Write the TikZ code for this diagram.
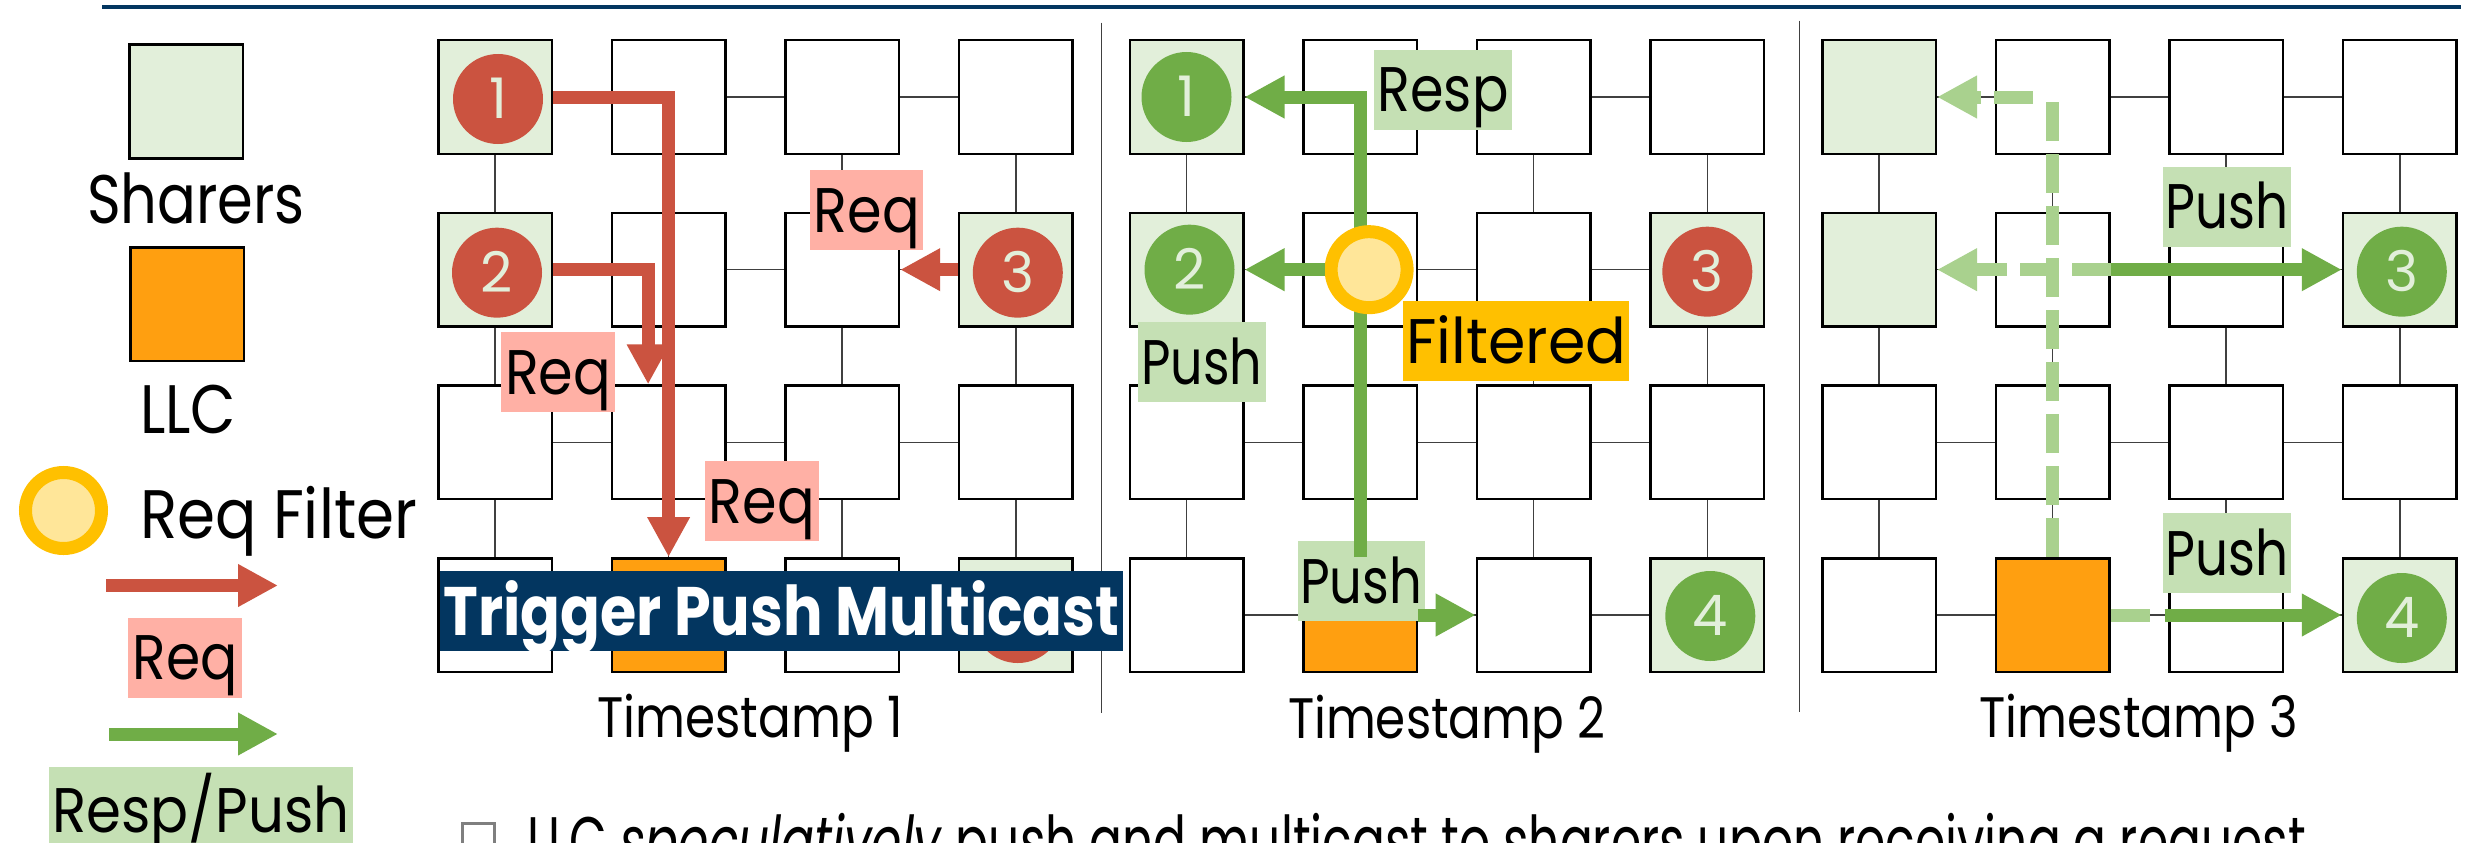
\documentclass[tikz,border=0pt]{standalone}
\usepackage{fontspec}
\usepackage{graphicx}
\setmainfont{Poppins}
\usetikzlibrary{arrows.meta,calc}

\definecolor{reqred}{RGB}{203,83,64}
\definecolor{reqpink}{RGB}{255,176,165}
\definecolor{pushgreen}{RGB}{112,173,71}
\definecolor{pushlight}{RGB}{197,224,180}
\definecolor{ghostgreen}{RGB}{169,209,142}
\definecolor{sharerfill}{RGB}{226,239,218}
\definecolor{llcorange}{RGB}{255,159,16}
\definecolor{filterring}{RGB}{255,192,0}
\definecolor{filterin}{RGB}{255,230,153}
\definecolor{navy}{RGB}{3,54,96}
\definecolor{linkgray}{RGB}{64,64,64}
\definecolor{numtext}{RGB}{226,239,218}
\definecolor{bulletgray}{RGB}{127,127,127}

% stretch a text to a given width, keeping its height
\newcommand{\fitw}[2]{\resizebox{#1}{\height}{#2}}
\newcommand{\bigfont}{\fontsize{68.6}{80}\selectfont}
\newcommand{\tsfont}{\fontsize{57}{66}\selectfont}
\newcommand{\tagfont}{\fontsize{63}{72}\selectfont}
\newcommand{\numfont}{\fontsize{56}{64}\selectfont}

\tikzset{
  box/.style={draw=black, line width=2.5pt, minimum size=113.5pt, inner sep=0pt},
  plain/.style={box, fill=white},
  sharer/.style={box, fill=sharerfill},
  llc/.style={box, fill=llcorange},
  cell 1-1/.style={sharer}, cell 2-1/.style={sharer},
  cell 2-4/.style={sharer}, cell 4-4/.style={sharer},
  cell 4-2/.style={llc},
  link/.style={draw=linkgray, line width=1.5pt},
  num/.style={circle, minimum size=90pt, inner sep=0pt, text=numtext,
    font=\numfont, text height=39pt, text depth=0pt},
  numred/.style={num, fill=reqred},
  numgreen/.style={num, fill=pushgreen},
  tip/.style={-{Triangle[length=40pt,width=40pt]}},
  reqarrow/.style={draw=reqred, line width=13pt, tip},
  pusharrow/.style={draw=pushgreen, line width=13pt, tip},
  ghostarrow/.style={draw=ghostgreen, line width=13pt, dash pattern=on 39pt off 13pt},
  tag/.style={inner sep=0pt, minimum height=80pt, text height=44pt,
    text depth=0pt, font=\tagfont},
  reqtag/.style={tag, fill=reqpink},
  pushtag/.style={tag, fill=pushlight},
  filter/.style={circle, fill=filterin, draw=filterring, line width=13pt,
    minimum size=76pt, inner sep=0pt},
  txt/.style={inner sep=0pt},
  sep/.style={draw=linkgray, line width=1.5pt},
}

\begin{document}
\begin{tikzpicture}[x=1pt,y=-1pt]
\useasboundingbox (0,0) rectangle (2468,843);
\clip (0,0) rectangle (2468,843);
\fill[white] (0,0) rectangle (2468,843);

% title rule
\draw[navy, line width=4.5pt] (102,7) -- (2461,7);

% panel separators
\draw[sep] (1101.6,22.7) -- (1101.6,713);
\draw[sep] (1799.7,20.7) -- (1799.7,712);

% ---------- legend ----------
\node[sharer] (lgsh) at (186,101.5) {};
\node[txt, anchor=base, font=\bigfont] (lgsht) at (196,223) {\fitw{218pt}{Sharers}};
\node[llc] (lgllc) at (187,304) {};
\node[txt, anchor=base, font=\bigfont] (lgllct) at (188,433) {\fitw{96pt}{LLC}};
\node[filter] (lgflt) at (63.5,510.5) {};
\node[txt, anchor=base west, font=\bigfont] (lgfltt) at (140,538) {\fitw{277pt}{Req Filter}};
\coordinate (lgra) at (106,585.5);
\coordinate (lgrb) at (278,585.5);
\draw[reqarrow] (lgra) -- (lgrb);
\node[reqtag, minimum width=114pt] (lgreq) at (185,657.5) {\fitw{105pt}{Req}};
\coordinate (lgga) at (109,734);
\coordinate (lggb) at (278,734);
\draw[pusharrow] (lgga) -- (lggb);
\node[pushtag, minimum width=304pt, minimum height=84pt, text height=46pt] (lgpush) at (201,809) {\fitw{297pt}{Resp/Push}};

% ---------- three 4x4 meshes ----------
\foreach \g/\gx in {1/495, 2/1186.5, 3/1879} {
  \foreach \r in {1,...,4} {
    \foreach \c in {1,...,4} {
      \node[plain, cell \r-\c/.try] (g\g-\r-\c) at ({\gx+173.6*(\c-1)}, {97+172.67*(\r-1)}) {};
    }
  }
  \foreach \r in {1,...,4} {
    \foreach \c [evaluate=\c as \cn using int(\c+1)] in {1,2,3} {
      \draw[link] (g\g-\r-\c.east) -- (g\g-\r-\cn.west);
      \draw[link] (g\g-\c-\r.south) -- (g\g-\cn-\r.north);
    }
  }
}

% ---------- Timestamp 1 ----------
\node[numred] (a1) at ($(g1-1-1)+(3,2)$) {1};
\node[numred] (a2) at ($(g1-2-1)+(2,3)$) {2};
\node[numred] (a3) at ($(g1-2-4)+(2,3)$) {3};
\node[numred] (a4) at ($(g1-4-4)+(2,3)$) {4};

\node[reqtag, minimum width=113pt] (rqa) at (866.7,210) {\fitw{106pt}{Req}};
\node[reqtag, minimum width=114pt] (rqb) at (558,372) {\fitw{106pt}{Req}};
\node[reqtag, minimum width=114pt] (rqc) at (761.8,501) {\fitw{106pt}{Req}};

\draw[reqarrow] (g1-1-1.east) -| (g1-4-2.north);
\draw[reqarrow] (g1-2-1.east) -| ($(g1-3-2.north)+(-20.5,0)$);
\draw[reqarrow] (g1-2-4.west) -- (g1-2-3.east);

\node[fill=navy, minimum width=683pt, minimum height=80pt, inner sep=0pt,
  text=white, font=\bigfont\bfseries, text height=48pt, text depth=0pt]
  (banner) at (781.5,611) {\fitw{676pt}{Trigger Push Multicast}};

\node[txt, anchor=base, font=\tsfont] (ts1) at (750,737) {\fitw{305pt}{Timestamp 1}};

% ---------- Timestamp 2 ----------
\node[numgreen] (b1) at (g2-1-1) {1};
\node[numgreen] (b2) at ($(g2-2-1)+(3,0)$) {2};
\node[numred] (b3) at ($(g2-2-4)+(0,2)$) {3};
\node[numgreen] (b4) at ($(g2-4-4)+(3,1)$) {4};

\node[pushtag, minimum width=138pt] (resp) at (1443,89.7) {\fitw{131pt}{Resp}};
\node[pushtag, minimum width=128pt] (pshl) at (1201.9,362) {\fitw{121pt}{Push}};
\node[tag, fill=filterring, minimum width=226pt] (filt) at (1516.2,341) {\fitw{220pt}{Filtered}};
\node[pushtag, minimum width=127pt] (pshb) at (1361,581) {\fitw{122pt}{Push}};

\draw[pusharrow] (g2-4-2.north) |- (g2-1-1.east);
\node[filter] (flt) at ($(g2-2-2)+(9,0)$) {};
\draw[pusharrow] (flt.west) -- (g2-2-1.east);
\draw[pusharrow] (g2-4-2.east) -- (g2-4-3.west);

\node[txt, anchor=base, font=\tsfont] (ts2) at (1446.5,738) {\fitw{317pt}{Timestamp 2}};

% ---------- Timestamp 3 ----------
\node[numgreen] (c3) at ($(g3-2-4)+(2,2)$) {3};
\node[numgreen] (c4) at ($(g3-4-4)+(2,3)$) {4};

\node[pushtag, minimum width=128pt] (psht) at (2227,206.7) {\fitw{123pt}{Push}};
\node[pushtag, minimum width=128pt] (pshu) at (2227,553) {\fitw{123pt}{Push}};

% speculative multicast paths
\draw[ghostarrow] (g3-4-2.north) -- ($(g3-1-2.center)+(0,-6.5)$);
\draw[ghostarrow, tip] ($(g3-1-2.center)+(-20,0)$) -- (g3-1-1.east);
\draw[ghostarrow, tip] (g3-2-2.east) -- (g3-2-1.east);
\draw[ghostarrow] (g3-4-2.east) -- ++(40,0);
\draw[pusharrow] (g3-2-2.east) -- (g3-2-4.west);
\draw[pusharrow] ($(g3-4-2.east)+(54,0)$) -- (g3-4-4.west);

\node[txt, anchor=base, font=\tsfont] (ts3) at (2138.7,737) {\fitw{318pt}{Timestamp 3}};

% ---------- bullet line ----------
\node[draw=bulletgray, line width=3pt, minimum size=32pt, inner sep=0pt] (bullet) at (478,839.5) {};
\node[txt, anchor=base west, font=\bigfont] (note) at (527.6,865)
  {\fitw{1778pt}{LLC \textit{speculatively} push and multicast to sharers upon receiving a request}};
\end{tikzpicture}
\end{document}
